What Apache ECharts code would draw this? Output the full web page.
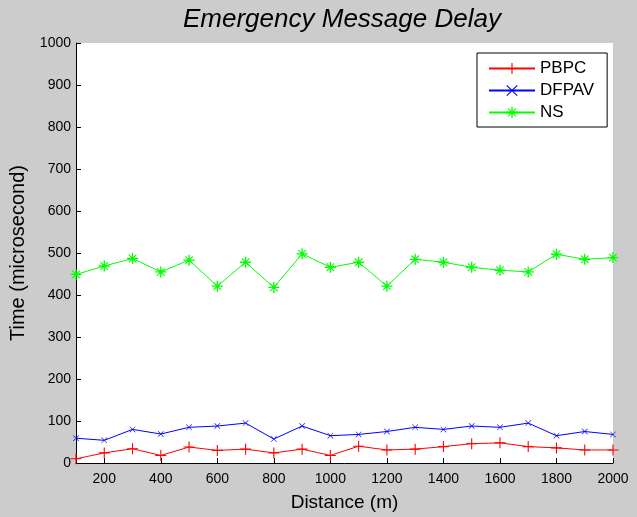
<!DOCTYPE html>
<html>
<head>
<meta charset="utf-8">
<script src="https://cdn.jsdelivr.net/npm/echarts@6/dist/echarts.min.js"></script>
<style>html,body{margin:0;padding:0;background:#cccccc;}#c{width:637px;height:517px;}</style>
</head>
<body>
<div id="c"></div>
<script>
const distances = [100,200,300,400,500,600,700,800,900,1000,1100,1200,1300,1400,1500,1600,1700,1800,1900,2000];
const pbpc  = [10,24,34,18,38,30,33,24,33,18,40,31,33,39,46,48,39,36,31,31];
const dfpav = [59,54,80,69,85,88,95,57,88,65,68,75,85,80,88,85,95,65,75,68];
const ns    = [449,469,487,455,483,421,478,418,498,466,478,421,485,478,466,459,455,497,485,489];
const xTicks = [200,400,600,800,1000,1200,1400,1600,1800,2000];

const plusPath = 'path://M-0.5,-5H0.5V-0.5H5V0.5H0.5V5H-0.5V0.5H-5V-0.5H-0.5Z';
const xPath = 'path://M-5,-4.3L-4.3,-5L5,4.3L4.3,5Z M4.3,-5L5,-4.3L-4.3,5L-5,4.3Z';
const starPath = 'path://M-0.6,-5H0.6V-0.6H5V0.6H0.6V5H-0.6V0.6H-5V-0.6H-0.6Z M-3.8,-3.1L-3.1,-3.8L3.8,3.1L3.1,3.8Z M3.1,-3.8L3.8,-3.1L-3.1,3.8L-3.8,3.1Z M-1.5,-1.5H1.5V1.5H-1.5Z';

function toPairs(arr){ return distances.map((d,i)=>[d,arr[i]]); }

const chart = echarts.init(document.getElementById('c'), null, {renderer:'canvas'});
const font = 'Liberation Sans, Arial, sans-serif';
chart.setOption({
  backgroundColor: '#cccccc',
  animation: false,
  textStyle: {fontFamily: font},
  title: {
    text: 'Emergency Message Delay',
    left: 183, top: 7, padding: 0,
    textStyle: {fontFamily: font, fontStyle: 'italic', fontWeight: 'normal', fontSize: 26, color: '#000'}
  },
  grid: {left: 76, right: 24, top: 43, bottom: 51, show: true, backgroundColor: '#ffffff', borderWidth: 0},
  legend: {
    orient: 'vertical', left: 477, top: 53,
    backgroundColor: '#ffffff', borderColor: '#000', borderWidth: 1, borderRadius: 0,
    padding: [7, 13, 6, 11], itemWidth: 46, itemHeight: 14, itemGap: 5,
    textStyle: {fontFamily: font, fontSize: 17, color: '#000'},
    data: ['PBPC','DFPAV','NS']
  },
  xAxis: {
    type: 'value', min: 100, max: 2000,
    axisLine: {show: true, lineStyle: {color: '#000', width: 1}},
    axisTick: {show: true, inside: true, length: 5, customValues: xTicks, lineStyle: {color: '#000'}},
    axisLabel: {customValues: xTicks, fontFamily: font, fontSize: 14, color: '#000', margin: 9,
                formatter: v => String(v)},
    splitLine: {show: false},
    name: 'Distance (m)', nameLocation: 'middle', nameGap: 30,
    nameTextStyle: {fontFamily: font, fontSize: 19, color: '#000'}
  },
  yAxis: {
    type: 'value', min: 0, max: 1000, interval: 100,
    axisLine: {show: true, lineStyle: {color: '#000', width: 1}},
    axisTick: {show: true, inside: true, length: 5, lineStyle: {color: '#000'}},
    axisLabel: {fontFamily: font, fontSize: 14, color: '#000', margin: 5, formatter: v => String(v)},
    splitLine: {show: false},
    name: 'Time (microsecond)', nameLocation: 'middle', nameGap: 48,
    nameTextStyle: {fontFamily: font, fontSize: 20, color: '#000'}
  },
  series: [
    {name: 'PBPC', type: 'line', data: toPairs(pbpc), symbol: plusPath, symbolSize: 11,
     lineStyle: {color: '#ff0000', width: 1}, itemStyle: {color: '#ff0000'}, z: 3},
    {name: 'DFPAV', type: 'line', data: toPairs(dfpav), symbol: xPath, symbolSize: 6,
     lineStyle: {color: '#0000ff', width: 1}, itemStyle: {color: '#0000ff'}, z: 3},
    {name: 'NS', type: 'line', data: toPairs(ns), symbol: starPath, symbolSize: 11,
     lineStyle: {color: '#00ff00', width: 1}, itemStyle: {color: '#00ff00'}, z: 3}
  ]
});
</script>
</body>
</html>
